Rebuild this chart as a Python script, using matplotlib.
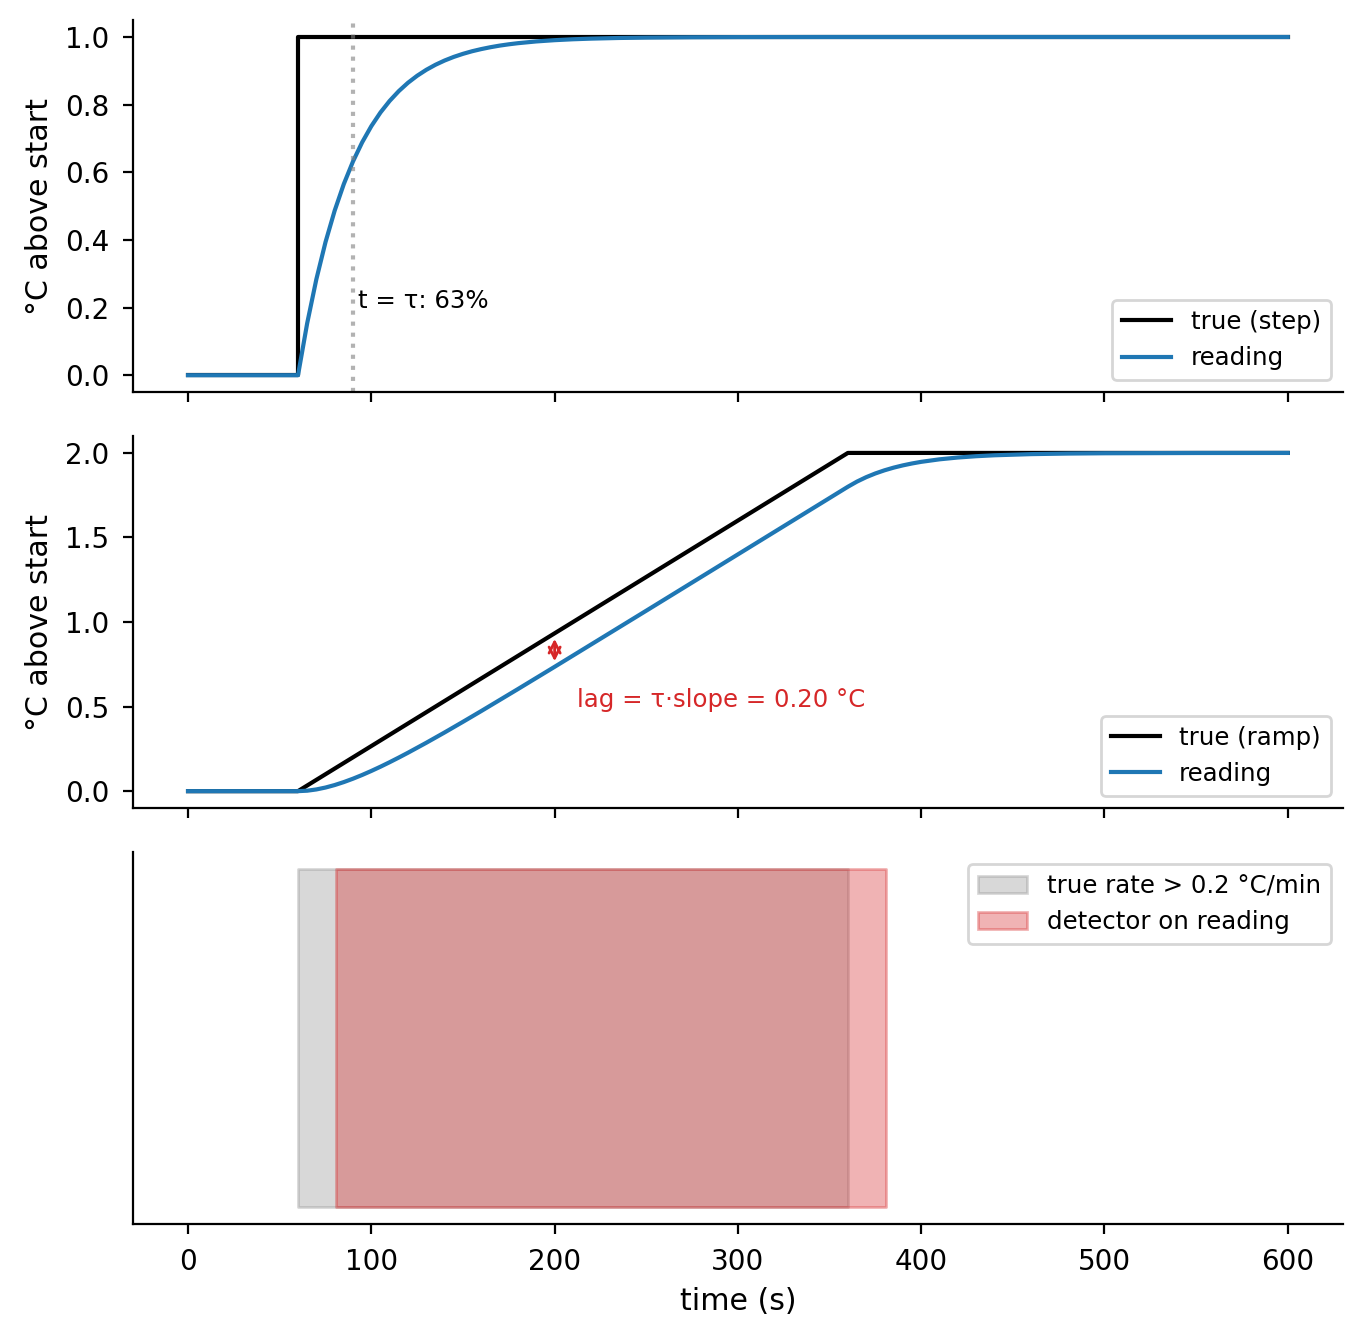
import matplotlib
matplotlib.use("Agg")
import matplotlib.pyplot as plt

# ---- data ----
tau = 30
step_true_t = [0, 60, 60, 600]
step_true_y = [0, 0, 1, 1]

step_read_t = [0, 60, 65, 70, 75, 80, 85, 90, 95, 100, 105, 110, 115, 120,
               125, 130, 135, 140, 145, 150, 155, 160, 165, 170, 175, 180,
               190, 200, 210, 220, 235, 250, 275, 300, 350, 600]
step_read_y = [0, 0, 0.1535, 0.2835, 0.3935, 0.4866, 0.5654, 0.6321, 0.6886,
               0.7364, 0.7769, 0.8111, 0.8401, 0.8647, 0.8854, 0.9030, 0.9179,
               0.9305, 0.9412, 0.9502, 0.9579, 0.9643, 0.9698, 0.9745, 0.9784,
               0.9817, 0.9869, 0.9906, 0.9933, 0.9952, 0.9971, 0.9982, 0.9992,
               0.9997, 1.0, 1.0]

ramp_true_t = [0, 60, 360, 600]
ramp_true_y = [0, 0, 2, 2]

ramp_read_t = [0, 60, 65, 70, 75, 80, 85, 90, 95, 100, 105, 110, 115, 120,
               130, 140, 150, 160, 180, 200, 250, 300, 340, 350, 355, 360,
               365, 370, 375, 380, 385, 390, 395, 400, 410, 420, 430, 440,
               460, 480, 500, 550, 600]
ramp_read_y = [0, 0, 0.0026, 0.0100, 0.0213, 0.0360, 0.0536, 0.0736, 0.0956,
               0.1194, 0.1446, 0.1711, 0.1987, 0.2271, 0.2861, 0.3472, 0.4100,
               0.4738, 0.6037, 0.7352, 1.0670, 1.4001, 1.6667, 1.7333, 1.7667,
               1.8000, 1.8307, 1.8567, 1.8787, 1.8973, 1.9131, 1.9264, 1.9377,
               1.9473, 1.9622, 1.9729, 1.9806, 1.9861, 1.9929, 1.9963, 1.9981,
               1.9996, 2.0]

lag_t = 200
lag_true = 0.9333
lag_read = 0.7352

true_span = [60, 360]
det_span = [80.8, 380.8]

xticks = [0, 100, 200, 300, 400, 500, 600]

# ---- figure ----
fig, axes = plt.subplots(3, 1, sharex=True, figsize=(6.83, 6.695), dpi=200)
fig.subplots_adjust(left=0.0974, right=0.983, top=0.985, bottom=0.0859,
                    hspace=0.118)
ax1, ax2, ax3 = axes
LBL = 10.8
SM = 8.8

ax1.plot(step_true_t, step_true_y, color="k", lw=1.5, label="true (step)")
ax1.plot(step_read_t, step_read_y, color="tab:blue", lw=1.5, label="reading")
ax1.axvline(60 + tau, color="gray", alpha=0.6, ls=":", lw=1.5)
ax1.text(60 + tau + 3, 0.2, "t = τ: 63%", fontsize=SM)
ax1.set_ylabel("°C above start", fontsize=LBL)
ax1.legend(loc="lower right", fontsize=SM)

ax2.plot(ramp_true_t, ramp_true_y, color="k", lw=1.5, label="true (ramp)")
ax2.plot(ramp_read_t, ramp_read_y, color="tab:blue", lw=1.5, label="reading")
ax2.annotate("", xy=(lag_t, lag_true), xytext=(lag_t, lag_read),
             arrowprops=dict(arrowstyle="<->", color="tab:red"))
ax2.text(lag_t + 12, 0.5, "lag = τ·slope = 0.20 °C", color="tab:red", fontsize=SM)
ax2.set_ylabel("°C above start", fontsize=LBL)
ax2.legend(loc="lower right", fontsize=SM)

ax3.fill_between(true_span, 0, 1, color="gray", alpha=0.3,
                 label="true rate > 0.2 °C/min")
ax3.fill_between(det_span, 0, 1, color="tab:red", alpha=0.35,
                 label="detector on reading")
ax3.set_yticks([])
ax3.set_xticks(xticks)
ax3.set_xlabel("time (s)", fontsize=LBL)
ax3.legend(loc="upper right", fontsize=SM)

for ax in axes:
    ax.spines["top"].set_visible(False)
    ax.spines["right"].set_visible(False)
    ax.tick_params(labelsize=10, pad=5)

fig.savefig("out.png", dpi=200)
